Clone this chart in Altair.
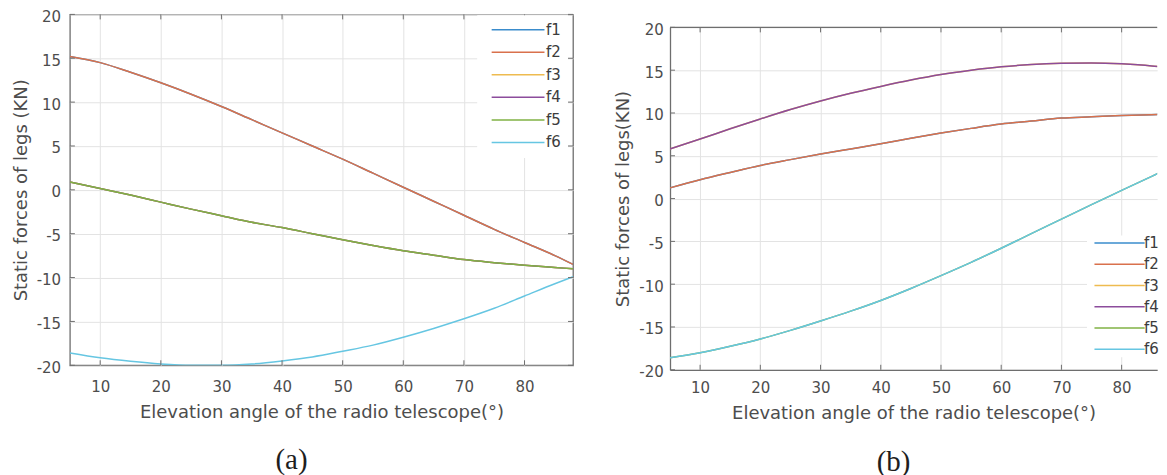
import altair as alt
import pandas as pd

# ---------------- data ----------------
angles = [5, 10, 15, 20, 25, 30, 35, 40, 45, 50, 55, 60, 65, 70, 75, 80, 85, 88]

# panel (a)
a_f1_f2 = [15.2, 14.5, 13.4, 12.2, 10.9, 9.5, 8.0, 6.5, 5.0, 3.5, 1.9, 0.3, -1.3, -2.9, -4.5, -6.0, -7.5, -8.5]
a_f3_f4_f5 = [0.9, 0.15, -0.6, -1.4, -2.2, -2.95, -3.7, -4.3, -5.0, -5.7, -6.35, -6.95, -7.45, -7.95, -8.3, -8.6, -8.85, -9.0]
a_f6 = [-18.6, -19.15, -19.55, -19.85, -20.0, -20.0, -19.85, -19.5, -19.05, -18.4, -17.7, -16.8, -15.8, -14.7, -13.5, -12.1, -10.7, -9.9]

# panel (b)
b_f1_f2 = [1.25, 2.2, 3.05, 3.87, 4.55, 5.2, 5.8, 6.4, 7.05, 7.65, 8.2, 8.7, 9.05, 9.4, 9.55, 9.7, 9.8, 9.85]
b_f3_f4 = [5.8, 6.95, 8.15, 9.3, 10.4, 11.4, 12.3, 13.1, 13.85, 14.5, 15.0, 15.4, 15.65, 15.8, 15.85, 15.75, 15.5, 15.25]
b_f5_f6 = [-18.6, -18.0, -17.25, -16.4, -15.4, -14.3, -13.15, -11.9, -10.5, -9.0, -7.45, -5.8, -4.1, -2.4, -0.7, 0.95, 2.6, 3.6]

series = ["f1", "f2", "f3", "f4", "f5", "f6"]
colors = ["#3a8ccc", "#d9714c", "#eebb50", "#8c4c9c", "#80b244", "#66c6e2"]

x_ticks = [10, 20, 30, 40, 50, 60, 70, 80]
y_ticks = [-20, -15, -10, -5, 0, 5, 10, 15, 20]

x_title = "Elevation angle of the radio telescope(°)"
y_title_a = "Static forces of legs (KN)"
y_title_b = "Static forces of legs(KN)"

AXIS_COL = "#6e6e6e"
TEXT_COL = "#4d4d4d"


def long_df(cols):
    rows = []
    for name, vals in zip(series, cols):
        for x, v in zip(angles, vals):
            rows.append({"angle": x, "force": v, "leg": name})
    return pd.DataFrame(rows)


df_a = long_df([a_f1_f2, a_f1_f2, a_f3_f4_f5, a_f3_f4_f5, a_f3_f4_f5, a_f6])
df_b = long_df([b_f1_f2, b_f1_f2, b_f3_f4, b_f3_f4, b_f5_f6, b_f5_f6])


def panel(df, W, H, xmax, y_title, lab_pad_x, lab_pad_y, leg_x, leg_y, sym_size,
          lab_off, row_pad, leg_pad, caption, cap_x, cap_y, boxed):
    xs = alt.Scale(domain=[5, xmax], nice=False, zero=False)
    ys = alt.Scale(domain=[-20, 20], nice=False, zero=False)

    lines = alt.Chart(df).mark_line(strokeWidth=1.5, clip=True, interpolate="monotone").encode(
        x=alt.X("angle:Q", scale=xs,
                axis=alt.Axis(values=x_ticks, title=x_title, labelPadding=lab_pad_x,
                              titlePadding=9, labelExpr="'' + datum.value",
                              domain=not boxed, domainColor=AXIS_COL, domainWidth=1.3)),
        y=alt.Y("force:Q", scale=ys,
                axis=alt.Axis(values=y_ticks, title=y_title, labelPadding=lab_pad_y,
                              titlePadding=6, labelOffset=2, labelExpr="'' + datum.value",
                              domain=not boxed, domainColor=AXIS_COL, domainWidth=1.3)),
        color=alt.Color("leg:N", scale=alt.Scale(domain=series, range=colors),
                        legend=alt.Legend(orient="none", legendX=leg_x, legendY=leg_y,
                                          title=None, symbolType="M0,0H10",
                                          symbolSize=sym_size, symbolStrokeWidth=1.5,
                                          labelFont="DejaVu Sans", labelFontSize=15,
                                          labelColor="#3c3c3c", labelOffset=lab_off,
                                          rowPadding=row_pad, padding=leg_pad,
                                          fillColor="white")),
    )

    xt = pd.DataFrame({"angle": x_ticks})
    yt = pd.DataFrame({"force": y_ticks})
    layers = [lines]
    layers.append(alt.Chart(xt).mark_rule(color=AXIS_COL, strokeWidth=1).encode(
        x=alt.X("angle:Q", scale=xs), y=alt.value(H), y2=alt.value(H - 5)))
    layers.append(alt.Chart(xt).mark_rule(color=AXIS_COL, strokeWidth=1).encode(
        x=alt.X("angle:Q", scale=xs), y=alt.value(0), y2=alt.value(5)))
    layers.append(alt.Chart(yt).mark_rule(color=AXIS_COL, strokeWidth=1).encode(
        y=alt.Y("force:Q", scale=ys), x=alt.value(0), x2=alt.value(5)))
    if boxed:
        layers.append(alt.Chart(yt).mark_rule(color=AXIS_COL, strokeWidth=1).encode(
            y=alt.Y("force:Q", scale=ys), x=alt.value(W - 5), x2=alt.value(W)))
    else:
        # top frame line (the right frame lies beyond the picture)
        layers.append(alt.Chart(pd.DataFrame({"k": [0]})).mark_rule(
            color=AXIS_COL, strokeWidth=1.3).encode(
            y=alt.value(0), x=alt.value(0), x2=alt.value(W)))

    layers.append(alt.Chart(pd.DataFrame({"cap": [caption]})).mark_text(
        font="Liberation Serif", fontSize=29, color="#1e1e1e", align="center",
        baseline="middle").encode(text="cap:N", x=alt.value(cap_x), y=alt.value(cap_y)))

    ch = alt.layer(*layers).properties(width=W, height=H)
    if not boxed:
        ch = ch.properties(view=alt.ViewBackground(stroke="transparent"))
    return ch


pa = panel(df_a, 504, 351.5, 88, y_title_a, 14, 9.3, 408, 0.8, 112, 47, 6.6, 7,
           "(a)", 222, 446.5, True)
pb = panel(df_b, 488, 343, 85.9, y_title_b, 11, 6.7, 417.7, 221.5, 101, 42, 5.3, 0,
           "(b)", 224, 435, False)

spacer = alt.Chart(pd.DataFrame({"s": [0]})).mark_point(opacity=0).properties(
    width=488, height=6, view=alt.ViewBackground(stroke="transparent"))

right = alt.vconcat(spacer, pb, spacing=0)

chart = alt.hconcat(pa, right, spacing=39.15).resolve_scale(
    color="independent"
).resolve_legend(
    color="independent"
).properties(
    padding={"left": 3, "top": 0, "right": 0, "bottom": 0},
    background="white",
).configure_view(
    stroke=AXIS_COL, strokeWidth=1.3
).configure_axis(
    labelFont="DejaVu Sans", labelFontSize=15, labelColor=TEXT_COL,
    titleFont="DejaVu Sans", titleFontSize=18, titleFontWeight="normal",
    titleColor=TEXT_COL, gridColor="#e3e3e3", gridWidth=1, ticks=False
)

chart.save("out.html", embed_options={"renderer": "svg", "actions": False})
